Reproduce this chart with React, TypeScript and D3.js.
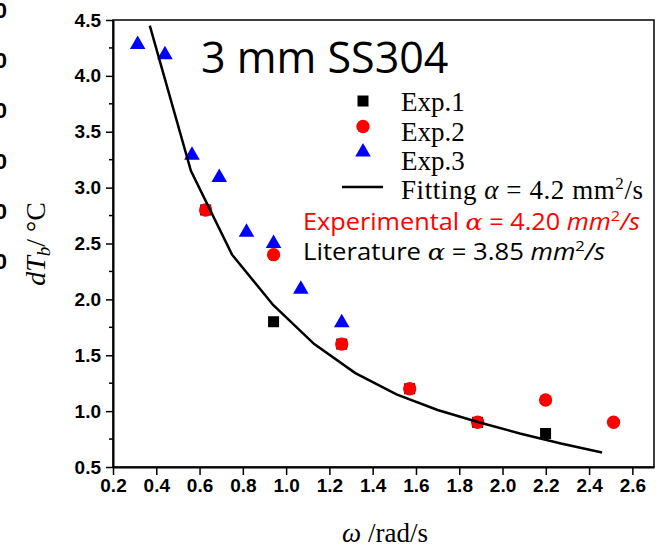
import React, { useEffect, useRef } from "react";
import * as d3 from "d3";

// angular frequency (rad/s) and amplitude dT_b (°C) for each run
const exp1W = [0.628, 0.942, 1.257, 1.571, 1.885, 2.199];
const exp1T = [2.8, 1.8, 1.6, 1.2, 0.9, 0.8];
const exp2W = [0.628, 0.942, 1.257, 1.571, 1.885, 2.199, 2.513];
const exp2T = [2.8, 2.4, 1.6, 1.2, 0.9, 1.1, 0.9];
const exp3W = [0.314, 0.44, 0.565, 0.691, 0.817, 0.942, 1.068, 1.257];
const exp3T = [4.28, 4.19, 3.29, 3.09, 2.6, 2.5, 2.09, 1.79];
const fitW = [0.37, 0.56, 0.75, 0.94, 1.13, 1.32, 1.51, 1.7, 1.89, 2.08, 2.27, 2.46];
const fitT = [4.45, 3.15, 2.4, 1.95, 1.6, 1.34, 1.15, 1.01, 0.9, 0.8, 0.71, 0.63];

const xTicks = [0.2, 0.4, 0.6, 0.8, 1.0, 1.2, 1.4, 1.6, 1.8, 2.0, 2.2, 2.4, 2.6];
const yTicks = [0.5, 1.0, 1.5, 2.0, 2.5, 3.0, 3.5, 4.0, 4.5];
const yMinor = [0.75, 1.25, 1.75, 2.25, 2.75, 3.25, 3.75, 4.25];

const legendNames = ["Exp.1", "Exp.2", "Exp.3"];

const W = 660, H = 547;

const App = () => {
  const ref = useRef<SVGSVGElement>(null);

  useEffect(() => {
    const svg = d3.select(ref.current);
    svg.selectAll("*").remove();

    const x = d3.scaleLinear().domain([0.2, 2.7]).range([113, 654]);
    const y = d3.scaleLinear().domain([0.5, 4.5]).range([467, 20]);

    svg.append("rect").attr("width", W).attr("height", H).attr("fill", "#fff");

    // cut-off tick labels of the neighbouring panel at the left edge
    const ghost = d3.scaleLinear().domain([0, 5]).range([10, 261]);
    svg.append("g")
      .selectAll("text")
      .data(d3.range(6))
      .join("text")
      .attr("x", 7)
      .attr("y", d => ghost(d) + 8)
      .attr("text-anchor", "end")
      .attr("font-family", "Liberation Sans, Arial, sans-serif")
      .attr("font-weight", "bold")
      .attr("font-size", 22)
      .text("0");

    // frame
    svg.append("rect")
      .attr("x", x(0.2)).attr("y", y(4.5))
      .attr("width", x(2.7) - x(0.2)).attr("height", y(0.5) - y(4.5))
      .attr("fill", "none").attr("stroke", "#000").attr("stroke-width", 1.5);

    // bottom axis
    const xAxis = svg.append("g")
      .attr("transform", `translate(0,${y(0.5)})`)
      .call(d3.axisBottom(x).tickValues(xTicks).tickSizeInner(8).tickSizeOuter(0).tickPadding(4).tickFormat(d3.format(".1f")));
    xAxis.select(".domain").attr("stroke-width", 2);
    xAxis.selectAll("line").attr("stroke-width", 1.5);
    xAxis.selectAll("text")
      .attr("font-family", "Liberation Sans, Arial, sans-serif")
      .attr("font-weight", "bold")
      .attr("font-size", 19)
      .attr("fill", "#000");

    // left axis
    const yAxis = svg.append("g")
      .attr("transform", `translate(${x(0.2)},0)`)
      .call(d3.axisLeft(y).tickValues(yTicks).tickSizeInner(7).tickSizeOuter(0).tickPadding(5).tickFormat(d3.format(".1f")));
    yAxis.select(".domain").attr("stroke-width", 2);
    yAxis.selectAll("line").attr("stroke-width", 1.5);
    yAxis.selectAll("text")
      .attr("font-family", "Liberation Sans, Arial, sans-serif")
      .attr("font-weight", "bold")
      .attr("font-size", 19)
      .attr("fill", "#000");

    svg.append("g")
      .selectAll("line")
      .data(yMinor)
      .join("line")
      .attr("x1", x(0.2) - 4).attr("x2", x(0.2))
      .attr("y1", d => y(d)).attr("y2", d => y(d))
      .attr("stroke", "#000").attr("stroke-width", 1.5);

    const sq = d3.symbol(d3.symbolSquare, 121);
    const ci = d3.symbol(d3.symbolCircle, 140);
    const tri = d3.symbol(d3.symbolTriangle, 105);

    svg.append("g").selectAll("path")
      .data(exp1W)
      .join("path")
      .attr("d", sq)
      .attr("transform", (d, i) => `translate(${x(d)},${y(exp1T[i])})`)
      .attr("fill", "#000");

    svg.append("g").selectAll("path")
      .data(exp2W)
      .join("path")
      .attr("d", ci)
      .attr("transform", (d, i) => `translate(${x(d)},${y(exp2T[i])})`)
      .attr("fill", "#ff0000");

    svg.append("g").selectAll("path")
      .data(exp3W)
      .join("path")
      .attr("d", tri)
      .attr("transform", (d, i) => `translate(${x(d)},${y(exp3T[i])})`)
      .attr("fill", "#0000ff");

    const line = d3.line<number>()
      .x(d => x(d))
      .y((d, i) => y(fitT[i]));
    svg.append("path")
      .datum(fitW)
      .attr("fill", "none")
      .attr("stroke", "#000")
      .attr("stroke-width", 2.5)
      .attr("d", line);

    // title
    svg.append("text")
      .attr("x", 201).attr("y", 73)
      .attr("font-family", "Open Sans, sans-serif")
      .attr("font-size", 43)
      .text("3 mm SS304");

    // legend
    const legend = svg.append("g");
    const markers = [sq, ci, tri];
    const colors = ["#000", "#ff0000", "#0000ff"];
    legendNames.forEach((name, i) => {
      const ly = 101 + i * 25.5;
      legend.append("path")
        .attr("d", markers[i])
        .attr("transform", `translate(363,${ly})`)
        .attr("fill", colors[i]);
      legend.append("text")
        .attr("x", 401).attr("y", 111 + i * 29.5)
        .attr("font-family", "Liberation Serif, Times New Roman, serif")
        .attr("font-size", 27)
        .text(name);
    });
    legend.append("line")
      .attr("x1", 342).attr("x2", 383)
      .attr("y1", 187).attr("y2", 187)
      .attr("stroke", "#000").attr("stroke-width", 2.5);
    const fitText = legend.append("text")
      .attr("x", 401).attr("y", 199)
      .attr("font-family", "Liberation Serif, Times New Roman, serif")
      .attr("font-size", 27)
      .attr("textLength", 242)
      .attr("lengthAdjust", "spacing");
    fitText.append("tspan").text("Fitting ");
    fitText.append("tspan").attr("font-style", "italic").text("α");
    fitText.append("tspan").text(" = 4.2 mm");
    fitText.append("tspan").attr("font-size", 17).attr("dy", -10).text("2");
    fitText.append("tspan").attr("dy", 10).text("/s");

    const addAlpha = (yy: number, color: string, label: string, value: string, len: number) => {
      const t = svg.append("text")
        .attr("x", 303).attr("y", yy)
        .attr("fill", color)
        .attr("font-family", "Open Sans, sans-serif")
        .attr("font-size", 23)
        .attr("textLength", len)
        .attr("lengthAdjust", "spacingAndGlyphs");
      t.append("tspan").text(label);
      t.append("tspan").attr("font-family", "DejaVu Serif, serif").attr("font-style", "italic").text("α");
      t.append("tspan").text(value);
      t.append("tspan").attr("font-style", "italic").text("mm");
      t.append("tspan").attr("font-size", 15).attr("dy", -9).text("2");
      t.append("tspan").attr("font-style", "italic").attr("dy", 9).text("/s");
    };
    addAlpha(230, "#ff0000", "Experimental ", " = 4.20 ", 337);
    addAlpha(260, "#000", "Literature ", " = 3.85  ", 302);

    // axis titles
    const xt = svg.append("text")
      .attr("x", 385).attr("y", 542)
      .attr("text-anchor", "middle")
      .attr("font-family", "Liberation Serif, Times New Roman, serif")
      .attr("font-size", 27);
    xt.append("tspan").attr("font-style", "italic").text("ω");
    xt.append("tspan").text(" /rad/s");

    const yt = svg.append("text")
      .attr("transform", "translate(45,244) rotate(-90)")
      .attr("text-anchor", "middle")
      .attr("font-family", "Liberation Serif, Times New Roman, serif")
      .attr("font-size", 28);
    yt.append("tspan").attr("font-style", "italic").text("dT");
    yt.append("tspan").attr("font-style", "italic").attr("font-size", 19).attr("dy", 5).text("b");
    yt.append("tspan").attr("dy", -5).text("/ °C");
  }, []);

  return <svg ref={ref} width={W} height={H} style={{ position: "absolute", left: 0, top: 0 }} />;
};

export default App;
